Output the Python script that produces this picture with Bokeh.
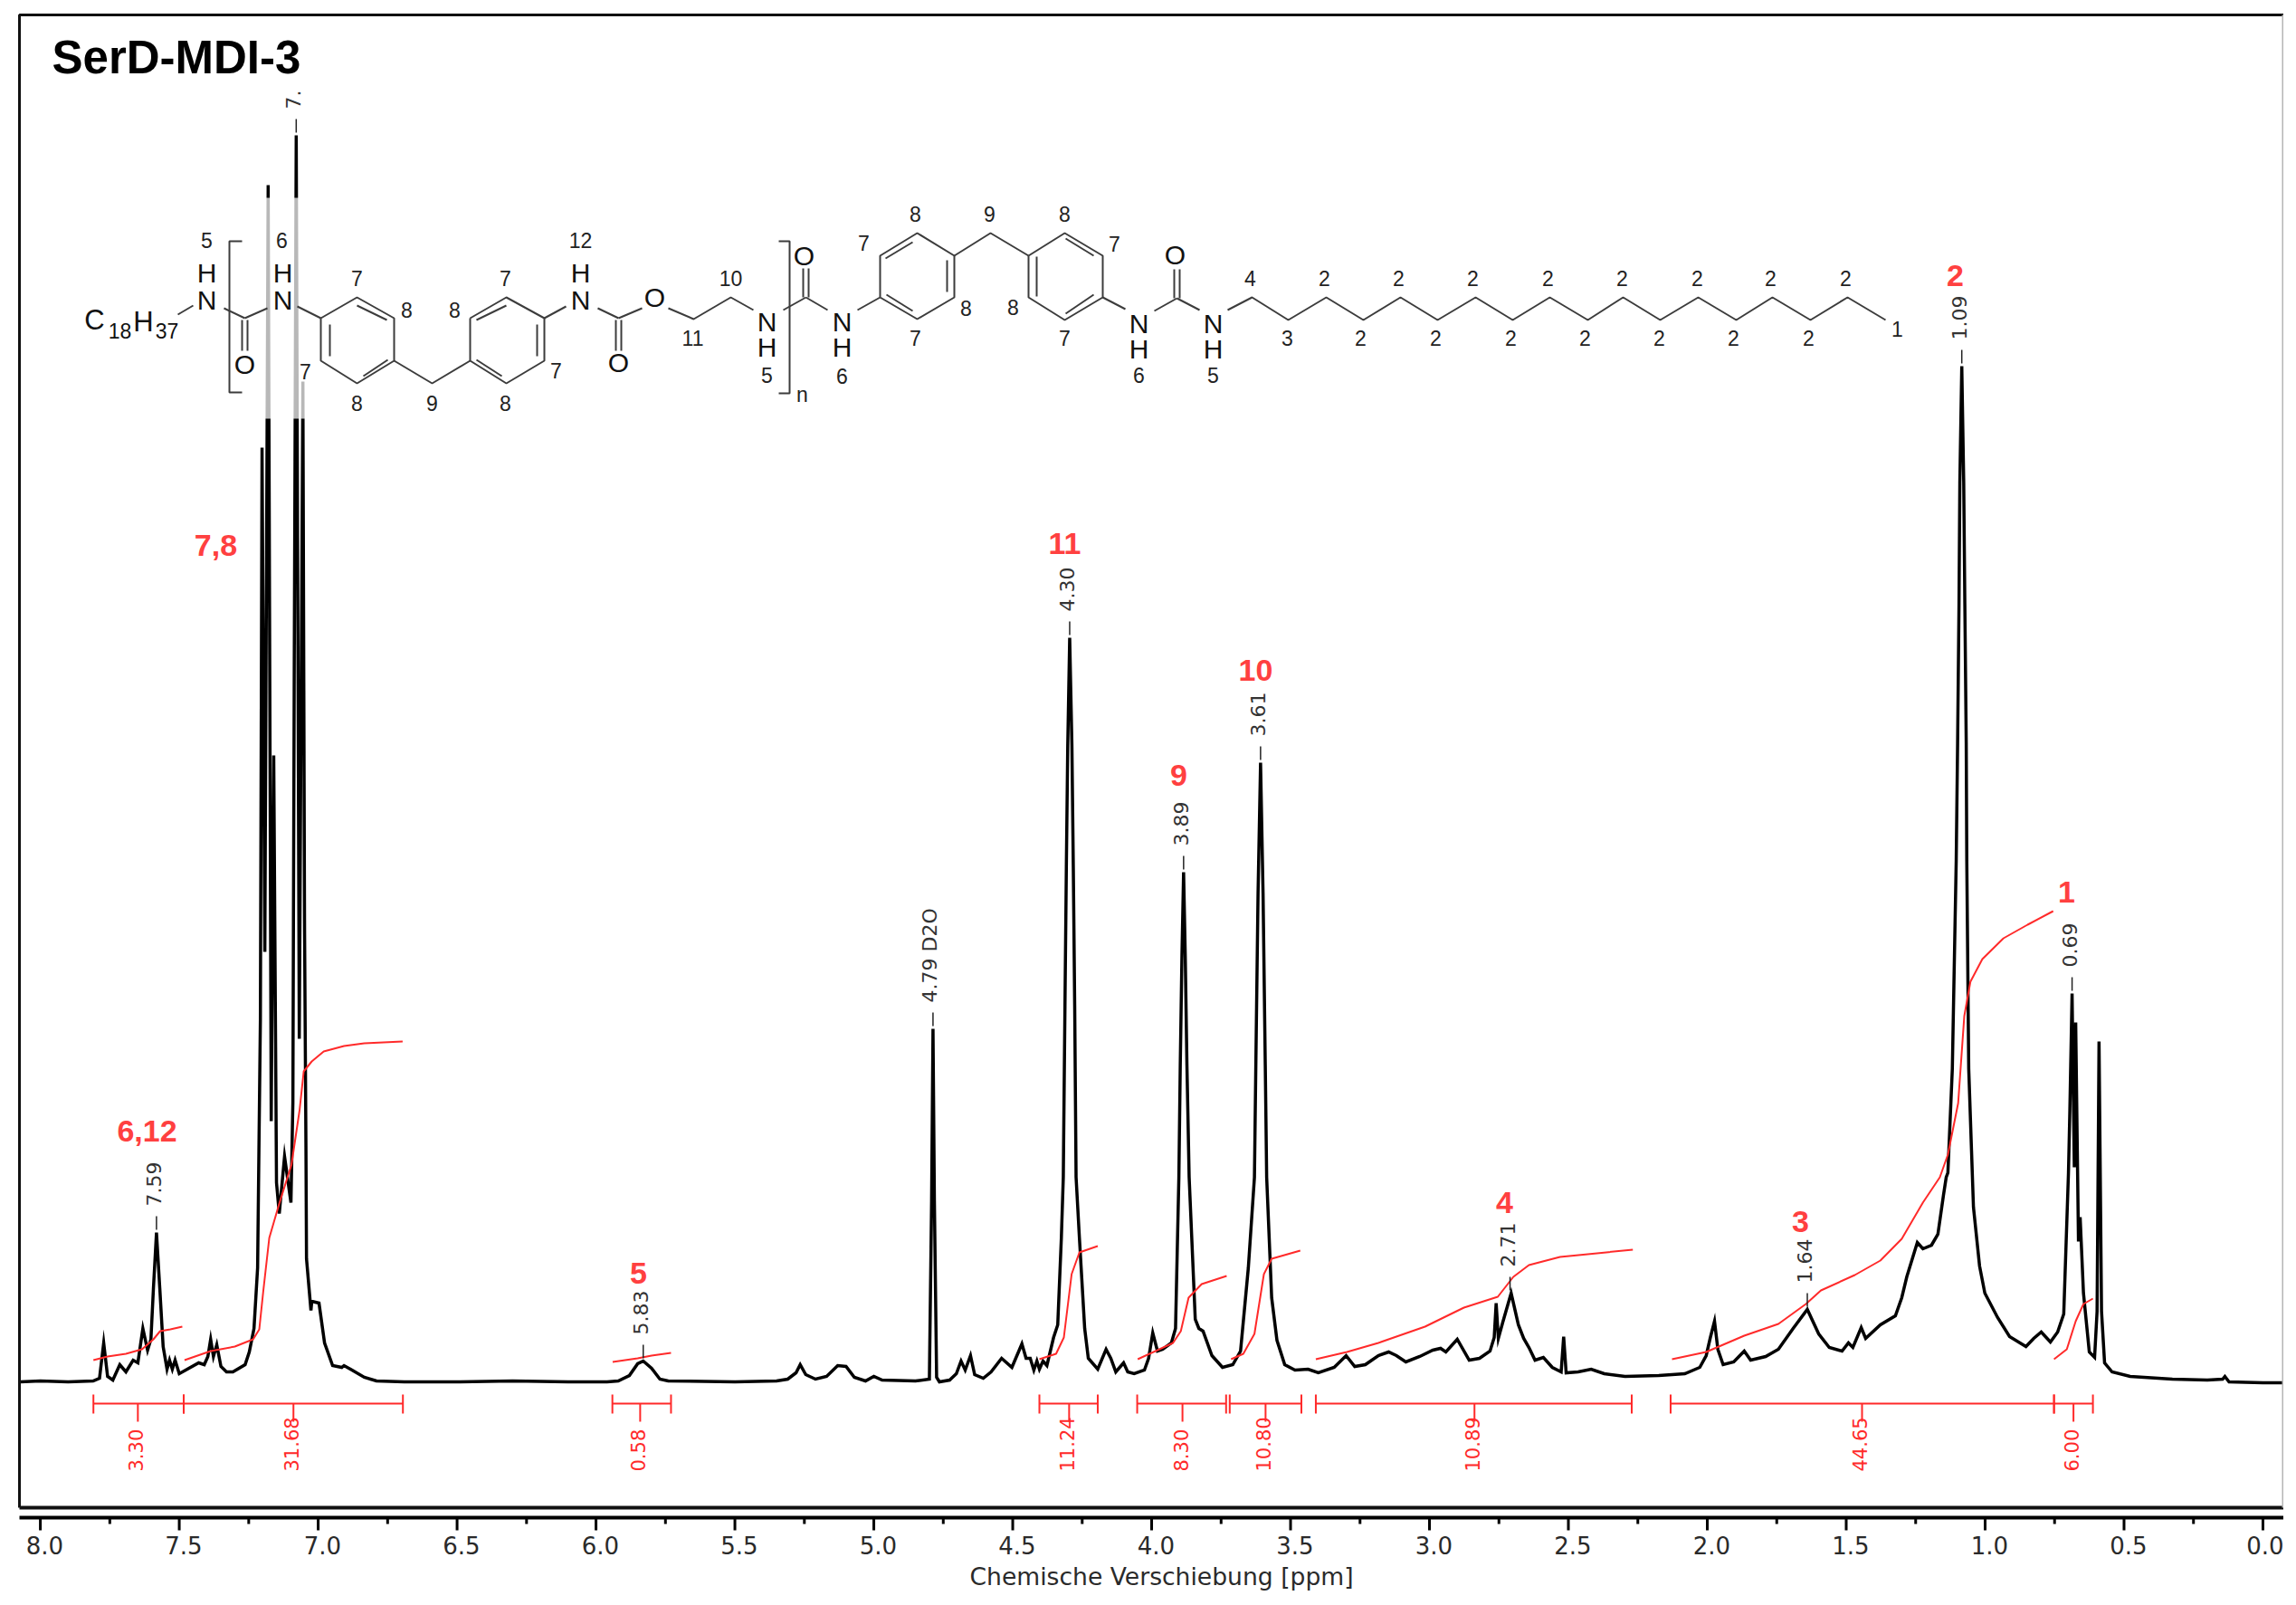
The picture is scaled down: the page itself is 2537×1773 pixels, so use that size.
from bokeh.plotting import figure
from bokeh.models import Range1d, LinearAxis, FixedTicker, NumeralTickFormatter, Title
from bokeh.core.properties import value
from bokeh.embed import file_html
from bokeh.resources import INLINE

# ---- spectrum: chemical shift [ppm], signal height
ppm = [8.072,8.0,7.9,7.81,7.787,7.772,7.758,7.739,7.714,7.692,7.666,7.649,7.631,7.614,7.602,7.593,7.582,7.570,7.558,7.544,7.535,7.525,7.515,7.50,
       7.43,7.41,7.397,7.387,7.377,7.365,7.35,7.33,7.307,7.263,7.248,7.231,7.218,7.208,7.202,7.192,7.180,7.169,7.160,7.150,7.140,7.121,7.098,7.091,7.086,7.079,
       7.068,7.055,7.049,7.044,7.042,7.026,7.023,6.997,6.977,6.948,6.915,6.907,6.878,6.834,6.79,6.69,6.5,6.3,6.1,5.96,
       5.92,5.88,5.85,5.83,5.80,5.77,5.74,5.5,5.35,5.31,5.28,5.265,5.245,5.21,5.17,5.13,5.10,5.07,5.03,5.00,4.97,4.85,4.80,4.792,4.787,4.782,4.774,
       4.764,4.727,4.703,4.686,4.671,4.652,4.637,4.606,4.578,4.540,4.503,4.467,4.452,4.437,4.424,4.413,4.404,4.391,4.377,4.353,4.338,
       4.325,4.318,4.312,4.307,4.302,4.295,4.287,4.282,4.277,4.272,4.26,4.241,4.228,4.194,4.164,4.147,4.129,4.101,4.086,4.063,4.026,4.011,3.996,3.979,3.960,3.929,3.914,
       3.902,3.897,3.891,3.885,3.879,3.873,3.865,3.843,3.830,3.815,3.783,3.745,3.708,3.68,3.652,3.630,3.625,3.617,3.608,3.599,3.591,3.586,3.568,3.549,3.521,3.484,3.437,3.40,3.343,3.30,
       3.269,3.231,3.184,3.147,3.119,3.085,3.035,2.988,2.960,2.941,2.900,2.857,2.82,2.782,2.767,2.760,2.752,2.736,2.706,2.680,2.661,2.642,2.62,2.59,2.558,2.526,
       2.517,2.508,2.465,2.418,2.371,2.296,2.175,2.127,2.081,2.027,2.004,1.989,1.974,1.962,1.943,1.905,1.867,1.844,1.79,1.744,1.691,1.64,1.599,1.561,1.515,1.492,
       1.476,1.446,1.43,1.377,1.323,1.30,1.282,1.262,1.244,1.224,1.193,1.17,1.15,1.14,1.134,1.118,1.104,1.099,1.094,1.091,1.084,1.077,1.073,1.068,1.066,1.059,1.042,1.02,1.001,0.955,0.912,0.853,0.825,
       0.798,0.765,0.739,0.717,0.70,0.695,0.687,0.679,0.674,0.664,0.658,0.646,0.625,0.606,0.597,0.59,0.581,0.57,0.543,0.478,0.326,0.20,0.145,0.137,0.122,0.0,-0.075]
height = [0,1,0,1,4,43,6,2,19,11,24,21,59,35,47,103,165,103,39,14,24,14,24,9,
          21,19,28,47,28,41,17,11,11,19,33,59,126,400,1032,475,1322,288,692,220,186,249,198,309,800,1377,
          379,1105,500,259,136,79,89,87,43,18,16,18,13,5,1,0,0,1,0,0,
          1,7,20,23,15,3,1,0,1,3,10,19,8,3,6,18,17,5,1,6,2,1,3,200,390,200,5,
          0,2,9,23,13,29,8,4,11,26,16,42,26,26,13,23,14,23,18,49,63,
          159,226,416,569,703,822,703,569,416,226,159,59,26,14,36,26,11,21,11,9,13,26,54,34,36,43,59,
          226,350,470,563,470,350,226,69,59,56,29,16,19,34,126,226,350,540,684,540,350,226,93,46,19,13,14,10,16,29,
          17,19,29,33,29,22,28,35,37,33,47,24,26,34,49,87,48,66,98,63,48,38,24,27,16,11,
          50,10,11,14,9,6,7,8,9,16,29,49,67,36,19,22,34,24,28,36,59,80,53,38,34,43,
          38,60,48,63,73,93,116,136,154,147,151,163,206,226,231,346,576,706,859,993,1122,993,859,706,576,346,193,128,98,71,50,39,48,
          55,44,55,75,231,300,429,237,397,155,182,98,33,27,78,376,78,21,11,6,3,2,3,6,0,-1,-1]

# ---- integration curves (ppm, height)
curve_ppm = [[7.809,7.758,7.692,7.634,7.593,7.569,7.532,7.489],
             [7.481,7.387,7.30,7.234,7.212,7.198,7.176,7.14,7.096,7.067,7.052,7.023,6.98,6.907,6.834,6.696],
             [5.94,5.85,5.80,5.73],
             [4.404,4.344,4.316,4.288,4.26,4.194],
             [4.05,3.923,3.895,3.867,3.82,3.73],
             [3.714,3.67,3.63,3.596,3.568,3.465],
             [3.409,3.297,3.184,3.016,2.876,2.754,2.698,2.642,2.53,2.268],
             [2.127,2.004,1.867,1.744,1.645,1.591,1.469,1.377,1.30,1.224,1.163,1.134,1.097,1.075,1.053,1.01,0.934,0.847,0.755],
             [0.752,0.706,0.674,0.646,0.612]]
curve_height = [[24,28,31,36,47,56,58,61],
                [24,34,39,47,58,99,159,197,240,300,343,354,365,371,374,376],
                [22,26,29,32],
                [25,31,49,119,143,150],
                [25,43,56,93,108,117],
                [25,31,53,119,136,145],
                [25,33,43,61,82,94,116,129,138,146],
                [25,33,51,64,86,101,118,134,158,198,226,251,308,404,442,467,490,505,520],
                [25,36,67,86,92]]

# ---- integral brackets
integral_from = [7.809,7.484,5.941,4.404,4.052,3.719,3.409,2.132,0.752]
integral_to = [7.484,6.695,5.730,4.194,3.732,3.461,2.272,0.752,0.612]
integral_mark = [7.649,7.089,5.841,4.297,3.889,3.590,2.838,1.443,0.682]
integral_text = ["3.30","31.68","0.58","11.24","8.30","10.80","10.89","44.65","6.00"]

# ---- picked peaks
peak_ppm = [7.582,7.079,5.83,4.787,4.295,3.885,3.608,2.71,1.64,1.084,0.687]
peak_top = [165,1377,23,390,822,563,684,98,80,1122,429]
peak_text = ["7.59","7.","5.83","4.79 D2O","4.30","3.89","3.61","2.71","1.64","1.09","0.69"]

# ---- axis
major_ticks = [8.0,7.5,7.0,6.5,6.0,5.5,5.0,4.5,4.0,3.5,3.0,2.5,2.0,1.5,1.0,0.5,0.0]
minor_ticks = [7.75,7.25,6.75,6.25,5.75,5.25,4.75,4.25,3.75,3.25,2.75,2.25,1.75,1.25,0.75,0.25]

# ---- assignment labels (image pixels)
assign_text = ["6,12","7,8","5","11","9","10","4","3","2","1"]
assign_x = [162,238,705,1176,1302,1387,1662,1989,2160,2283]
assign_y = [1249,602,1406,600,856,740,1328,1349,304,985]

# ---- structure drawing (image pixels)
bond_x = [[196,213],[247,270],[270,295],[328,354],[354,394,435,435,394,354,354],[394,427],[364,364],[401,428],
          [435,477,519],[519,559,601,601,559,519,519],[526,559],[593,593],[526,554],[601,625],[660,683],[683,709],[738,766,807,832],
          [865,890],[890,914],[947,972],[972,1013,1054,1054,1013,972,972],[978,1008],[1046,1046],[979,1008],[1054,1094,1136],
          [1136,1176,1218,1218,1176,1136,1136],[1177,1208],[1145,1145],[1177,1208],[1218,1243],[1275,1300],[1300,1325],
          [1356,1383,1423,1465,1506,1547,1588,1630,1671,1712,1754,1793,1834,1876,1918,1958,2000,2041,2083],
          [267,253,253,267],[860,872,872,860]]
bond_y = [[347,337],[340,351],[351,340],[338,351],[351,328,351,398,423,398,351],[337,353],[358,393],[415,397],
          [398,423,398],[351,328,351,398,423,398,351],[353,337],[358,393],[397,415],[351,338],[340,351],[351,340],[340,352,328,342],
          [342,328],[328,342],[342,328],[328,352,328,282,257,282,328],[285,267],[287,322],[325,343],[282,257,282],
          [282,257,282,328,353,328,282],[263,282],[283,327],[346,325],[328,341],[343,329],[329,342],
          [342,328,353,328,353,328,353,328,353,328,353,328,353,328,353,328,353,328,353],
          [266,266,433,433],[266,266,434,434]]
double_x = [[267,267],[273,273],[680,680],[686,686],[887,887],[893,893],[1297,1297],[1303,1303]]
double_y = [[353,387],[353,387],[353,387],[353,387],[328,296],[328,296],[329,297],[329,297]]
atom_x = [228,228,270,312,312,641,641,683,723,847,847,888,930,930,1298,1258,1258,1340,1340]
atom_y = [331,301,402,331,301,331,301,400,328,355,383,282,355,383,281,357,385,357,385]
atom_text = ["N","H","O","N","H","N","H","O","O","N","H","O","N","H","O","N","H","N","H"]
number_x = [228,311,394,449,394,337,477,502,558,614,558,641,807,765,847,930,886,
            954,1011,1067,1011,1093,1176,1231,1119,1176,1258,1340,
            1381,1463,1545,1627,1710,1792,1875,1956,2039,1422,1503,1586,1669,1751,1833,1915,1998,2096]
number_y = [265,265,307,342,445,410,445,342,307,409,445,265,307,373,414,415,435,
            268,236,340,373,236,236,269,339,373,414,414,
            307,307,307,307,307,307,307,307,307,373,373,373,373,373,373,373,373,363]
number_text = ["5","6","7","8","8","7","9","8","7","7","8","12","10","11","5","6","n",
               "7","8","8","7","9","8","7","8","7","6","5",
               "4","2","2","2","2","2","2","2","2","3","2","2","2","2","2","2","2","1"]
formula_big_x = [104,158]
formula_big_y = [353,355]
formula_big_text = ["C","H"]
formula_sub_x = [132,184]
formula_sub_y = [365,365]
formula_sub_text = ["18","37"]

RED = "#ff2a2a"
BLACK = "#000000"
AX = -150   # height of the axis line on the signal scale

p = figure(frame_width=2509, frame_height=1681, min_border_left=14, min_border_right=0,
           min_border_top=10, min_border_bottom=72, output_backend="svg", toolbar_location=None,
           x_range=Range1d(8.098, -0.075), y_range=Range1d(-165, 1516),
           x_axis_type=None, y_axis_type=None, outline_line_color=None)
p.grid.visible = False
p.extra_x_ranges = {"px": Range1d(14, 2523), "labels": Range1d(8.1135, -0.0587)}
p.extra_y_ranges = {"px": Range1d(1691, 10)}

label_axis = LinearAxis(x_range_name="labels", ticker=FixedTicker(ticks=major_ticks),
                        formatter=NumeralTickFormatter(format="0.0"),
                        axis_line_color=None, major_tick_line_color=None, minor_tick_line_color=None,
                        major_tick_out=0, major_tick_in=0, minor_tick_out=0, minor_tick_in=0,
                        major_label_text_font="DejaVu Sans", major_label_text_font_size="26px",
                        major_label_text_color="#2a2a2a", major_label_standoff=5)
p.add_layout(label_axis, "below")
p.add_layout(Title(text="Chemische Verschiebung [ppm]", align="left", offset=1057, text_font="DejaVu Sans",
                   text_font_size="26.6px", text_font_style="normal", text_color="#2a2a2a", standoff=9), "below")

# spectrum
p.line(ppm, height, line_color=BLACK, line_width=3.5, line_join="miter")

# white translucent backing of the structure image
p.quad(left=[80], right=[2110], top=[218], bottom=[462], x_range_name="px", y_range_name="px",
       fill_color="white", fill_alpha=0.72, line_color=None)

# integral curves
p.multi_line(curve_ppm, curve_height, line_color=RED, line_width=2, line_join="round")

# integral brackets
BAR = -24
p.segment(integral_from, [BAR]*9, integral_to, [BAR]*9, line_color=RED, line_width=2)
ends = integral_from + integral_to
p.segment(ends, [BAR+10]*18, ends, [BAR-11]*18, line_color=RED, line_width=2)
p.segment(integral_mark, [BAR]*9, integral_mark, [BAR-20]*9, line_color=RED, line_width=2)
p.text(integral_mark, [BAR-75]*9, text=integral_text, angle=1.5708, text_align="left", text_baseline="middle",
       text_color=RED, text_font=value("DejaVu Sans"), text_font_size="21px", x_offset=-2)

# peak picks
p.segment(peak_ppm, [t+3 for t in peak_top], peak_ppm, [t+18 for t in peak_top], line_color="#222222", line_width=1.5)
p.text(peak_ppm, [t+29 for t in peak_top], text=peak_text, angle=1.5708, text_align="left", text_baseline="middle",
       text_color="#333333", text_font=value("DejaVu Sans"), text_font_size="22px", x_offset=-3)

# assignment labels
p.text(assign_x, assign_y, text=assign_text, x_range_name="px", y_range_name="px", text_align="center", text_baseline="middle",
       text_color="#ff4040", text_font=value("Liberation Sans"), text_font_style="bold", text_font_size="34px")

# structure
p.multi_line(bond_x, bond_y, x_range_name="px", y_range_name="px", line_color="#3c3c3c", line_width=2)
p.multi_line(double_x, double_y, x_range_name="px", y_range_name="px", line_color="#3c3c3c", line_width=2)
p.text(atom_x, atom_y, text=atom_text, x_range_name="px", y_range_name="px", text_align="center", text_baseline="middle",
       text_color="#111111", text_font=value("Liberation Sans"), text_font_size="30px")
p.text(number_x, number_y, text=number_text, x_range_name="px", y_range_name="px", text_align="center", text_baseline="middle",
       text_color="#222222", text_font=value("Liberation Sans"), text_font_size="23px")
p.text(formula_big_x, formula_big_y, text=formula_big_text, x_range_name="px", y_range_name="px", text_align="center", text_baseline="middle",
       text_color="#111111", text_font=value("Liberation Sans"), text_font_size="31px")
p.text(formula_sub_x, formula_sub_y, text=formula_sub_text, x_range_name="px", y_range_name="px", text_align="center", text_baseline="middle",
       text_color="#111111", text_font=value("Liberation Sans"), text_font_size="23px")

# frame
p.line([21,21,2523], [1665,16,16], x_range_name="px", y_range_name="px", line_color="#111111", line_width=3)
p.line([21,2523], [1665,1665], x_range_name="px", y_range_name="px", line_color="#111111", line_width=4)
p.line([2522,2522], [16,1665], x_range_name="px", y_range_name="px", line_color="#b5b5b5", line_width=2)

# axis line and tick marks
p.line([21,2523], [1676,1676], x_range_name="px", y_range_name="px", line_color=BLACK, line_width=4)
p.segment(major_ticks, [AX]*17, major_ticks, [AX-14]*17, line_color=BLACK, line_width=3)
p.segment(minor_ticks, [AX]*16, minor_ticks, [AX-7]*16, line_color=BLACK, line_width=3)

# title
p.text([57], [63], text=["SerD-MDI-3"], x_range_name="px", y_range_name="px", text_align="left", text_baseline="middle",
       text_color=BLACK, text_font=value("Liberation Sans"), text_font_style="bold", text_font_size="51px")

open("out.html", "w").write(file_html(p, INLINE))
